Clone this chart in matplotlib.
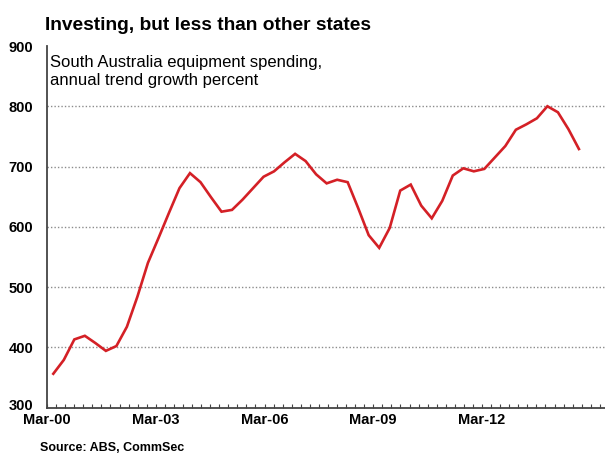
import numpy as np
import matplotlib
matplotlib.use('Agg')
import matplotlib.pyplot as plt
import matplotlib.transforms as mtransforms
from matplotlib.ticker import MultipleLocator

plt.rcParams['font.family'] = ['Liberation Sans', 'DejaVu Sans']

# South Australia equipment spending (index-style level)
VALUES = [356, 379, 413, 419, 407, 394, 402, 434, 484, 540,
          581, 623, 664, 689, 674, 649, 625, 628, 645, 664,
          683, 692, 707, 721, 709, 687, 672, 678, 674, 631,
          586, 565, 598, 660, 670, 635, 614, 643, 685, 697,
          692, 696, 715, 734, 761, 770, 780, 800, 790, 762, 729]
X0, STEP = 0.174, 0.290          # years after Mar-00 for first point, spacing
TICK_YEARS = [0, 3, 6, 9, 12]
TICK_LABELS = ['Mar-00', 'Mar-03', 'Mar-06', 'Mar-09', 'Mar-12']
Y_TICKS = [300, 400, 500, 600, 700, 800, 900]

W, H = 605, 455
fig = plt.figure(figsize=(W / 100, H / 100), dpi=100)
ax = fig.add_axes([47 / W, 1 - 407.5 / H, (W - 47) / W, (407.5 - 46) / H])

years = X0 + STEP * np.arange(len(VALUES))
ax.plot(years, VALUES, color='#d42026', lw=1.9, solid_joinstyle='miter', zorder=3)

ax.set_xlim(0, (W - 47) / 36.25)
ax.set_ylim(300, 900)
ax.set_yticks(Y_TICKS)
ax.set_yticklabels([str(v) for v in Y_TICKS], fontsize=10.5, fontweight='bold')
ax.set_xticks(TICK_YEARS)
ax.set_xticklabels(TICK_LABELS, fontsize=10.5, fontweight='bold')
ax.xaxis.set_minor_locator(MultipleLocator(0.25))
ax.tick_params(axis='x', which='both', direction='in', length=3, width=0.8,
               color='#444444', pad=4)
ax.tick_params(axis='y', length=0, pad=10)
# nudge the bottom y label up a couple of pixels so it clears "Mar-00"
lab = ax.get_yticklabels()[0]
lab.set_transform(lab.get_transform() + mtransforms.ScaledTranslation(0, 3 / 100, fig.dpi_scale_trans))

for v in Y_TICKS[1:-1]:
    ax.axhline(v, color='#8c8c8c', lw=1.0, ls=(0, (1, 1.5)), zorder=1)

for s in ['top', 'right']:
    ax.spines[s].set_visible(False)
for s in ['left', 'bottom']:
    ax.spines[s].set_color('#444444')
    ax.spines[s].set_linewidth(1.3)

fig.text(45 / W, 1 - 25 / H, 'Investing, but less than other states',
         fontsize=13.8, fontweight='bold', va='center', ha='left')
fig.text(50 / W, 1 - 63 / H, 'South Australia equipment spending,',
         fontsize=12, va='center', ha='left')
fig.text(50 / W, 1 - 81 / H, 'annual trend growth percent',
         fontsize=12, va='center', ha='left')
fig.text(40 / W, 1 - 448 / H, 'Source: ABS, CommSec',
         fontsize=9, fontweight='bold', va='center', ha='left')

fig.savefig('out.png', dpi=100)
